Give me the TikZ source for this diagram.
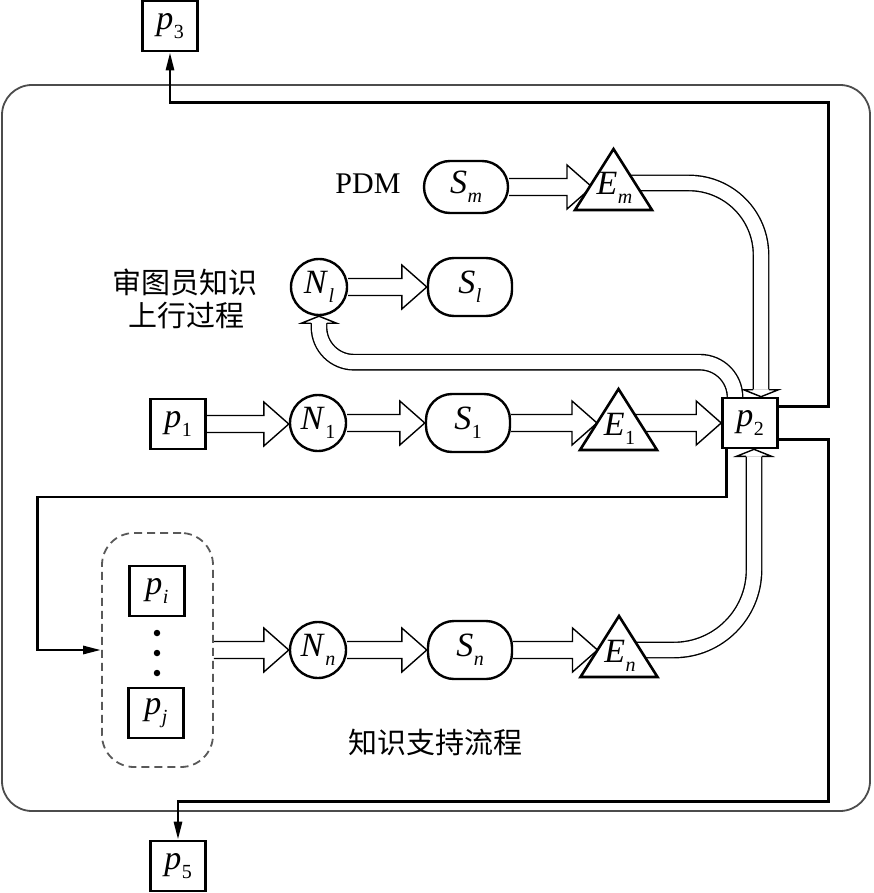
\documentclass[tikz,border=0pt]{standalone}
\usepackage{fontspec}
\setmainfont{Liberation Serif}
\newfontfamily\cjk{Noto Sans CJK SC}
\usetikzlibrary{calc,arrows.meta,backgrounds}
\newcommand\lb[2]{\textit{#1}\kern0.5pt\raisebox{-9pt}{\fontsize{20}{20}\selectfont #2}}
\newcommand\harrow[2]{\draw[harr] let \p1=(#1), \p2=(#2) in
  (\x1,{\y1+8.5pt}) -- ({\x2-25pt},{\y1+8.5pt}) -- ({\x2-25pt},{\y1+22pt}) -- (\x2,\y1)
  -- ({\x2-25pt},{\y1-22pt}) -- ({\x2-25pt},{\y1-8.5pt}) -- (\x1,{\y1-8.5pt});}
\newcommand\vhead[2]{\draw[harr] ($#1+(-7.8,#2)$) -- ($#1+(-17.5,#2)$) -- ($#1$)
  -- ($#1+(17.5,#2)$) -- ($#1+(7.8,#2)$);}
\newcommand\tri[4]{%
  \coordinate (#1) at (#2,#3);
  \draw[tristyle] (#1) ++(-38.5,0) -- ++(77,0) -- ++(-38.5,-61) -- cycle;
  \node[lab, anchor=base] (#1l) at ($(#1)+(1,-15)$) {#4};
  \coordinate (#1w) at ($(#1)+(-21.5,-27)$);
  \coordinate (#1c) at ($(#1)+(0,-27)$);}
\begin{document}
\begin{tikzpicture}[x=1pt,y=-1pt,
  lab/.style={inner sep=0pt, font={\fontsize{34}{38}\selectfont}},
  box/.style={lab, draw, line width=2.6pt, minimum width=55pt, minimum height=50pt, fill=white},
  circ/.style={lab, circle, draw, line width=2.4pt, minimum size=56pt, fill=white},
  sbox/.style={lab, rectangle, rounded corners=26pt, draw, line width=2.4pt, minimum width=84pt, minimum height=58pt, fill=white},
  dbox/.style={draw=black!65, dash pattern=on 8pt off 5pt, line width=1.8pt, rounded corners=32pt, minimum width=111pt, minimum height=234pt, inner sep=0pt},
  dot/.style={circle, fill, inner sep=0pt, minimum size=6.5pt},
  tristyle/.style={draw, line width=2.6pt, fill=white, line join=miter},
  harr/.style={draw, line width=1.4pt, fill=white, line join=miter},
  dbl/.style={line width=1.4pt, double=white, double distance=14pt},
  conn/.style={draw, line width=2.8pt, line join=miter},
  connarr/.style={conn, -{Triangle[length=18pt,width=8pt]}},
  cjkt/.style={inner sep=0pt, font={\cjk\fontsize{29}{34}\selectfont}},
  txt/.style={inner sep=0pt, font={\fontsize{30}{34}\selectfont}}]
\useasboundingbox (0,0) rectangle (873,893);
% boxes
\node[box] (p3) at (170,26) {\lb{p}{3}};
\node[box] (p5) at (178,866) {\lb{p}{5}};
\node[box] (p1) at (178,424) {\lb{p}{1}};
\node[box] (p2) at (750,423) {\lb{p}{2}};
\node[box] (pi) at (157,591) {\lb{p}{\textit{i}}};
\node[box] (pj) at (156,713) {\lb{p}{\textit{j}}};
\node[dbox] (dbox) at (157.5,650) {};
\node[dot] (d1) at (157,633) {};
\node[dot] (d2) at (157,653) {};
\node[dot] (d3) at (157,673) {};
% circles and S nodes
\node[circ] (N1) at (318,423) {\lb{N}{1}};
\node[circ] (Nl) at (319,287) {\lb{N}{\textit{l}}};
\node[circ] (Nn) at (318,650) {\lb{N}{\textit{n}}};
\node[sbox] (S1) at (468,423) {\lb{S}{1}};
\node[sbox, minimum height=52pt] (Sm) at (466,187) {\lb{S}{\textit{m}}};
\node[sbox] (Sl) at (470,287) {\lb{S}{\textit{l}}};
\node[sbox] (Sn) at (470,650) {\lb{S}{\textit{n}}};
% triangles
\tri{E1}{618.5}{450}{\lb{E}{1}}
\tri{Em}{613.5}{210}{\lb{E}{\textit{m}}}
\tri{En}{619}{677}{\lb{E}{\textit{n}}}
% texts
\node[txt] (pdm) at (368,184) {PDM};
\node[cjkt] (t1) at (185,282) {审图员知识};
\node[cjkt] (t2) at (186,316) {上行过程};
\node[cjkt] (t3) at (435,742) {知识支持流程};
% background: frame and hollow arrows
\begin{scope}[on background layer]
\draw[draw=black!70, line width=1.8pt, rounded corners=30pt] (2,85) rectangle (870,811);
\harrow{p1.east}{N1.west}
\harrow{N1.east}{S1.west}
\harrow{S1.east}{E1w}
\harrow{E1c}{p2.west}
\harrow{Sm.east}{Emw}
\harrow{Nl.east}{Sl.west}
\harrow{dbox.east}{Nn.west}
\harrow{Nn.east}{Sn.west}
\harrow{Sn.east}{Enw}
\draw[dbl, rounded corners=72pt] (Emc) -| ($(p2.north)+(11,-7)$);
\vhead{(p2.north)+(11,0)}{-7}
\draw[dbl, rounded corners=80pt] (Enc) -| ($(p2.south)+(4,7)$);
\vhead{(p2.south)+(4,0)}{7}
\draw[dbl, rounded corners=35pt] ($(p2.north)+(-15,0)$) |- ($(Nl.south)+(0,46)$) -- ($(Nl.south)+(0,7)$);
\vhead{(Nl.south)}{7}
\end{scope}
% plain connectors
\draw[connarr] ($(p2.north east)+(0,10)$) -- ++(50,0) |- ($(p3.south)+(0,50)$) -- (p3.south);
\draw[connarr] ($(p2.south east)+(0,-10)$) -- ++(50,0) |- ($(p5.north)+(0,-38)$) -- (p5.north);
\draw[connarr] ($(p2.south west)+(5,0)$) |- ($(dbox.west)+(-64,-153)$) |- (dbox.west);
\end{tikzpicture}
\end{document}
